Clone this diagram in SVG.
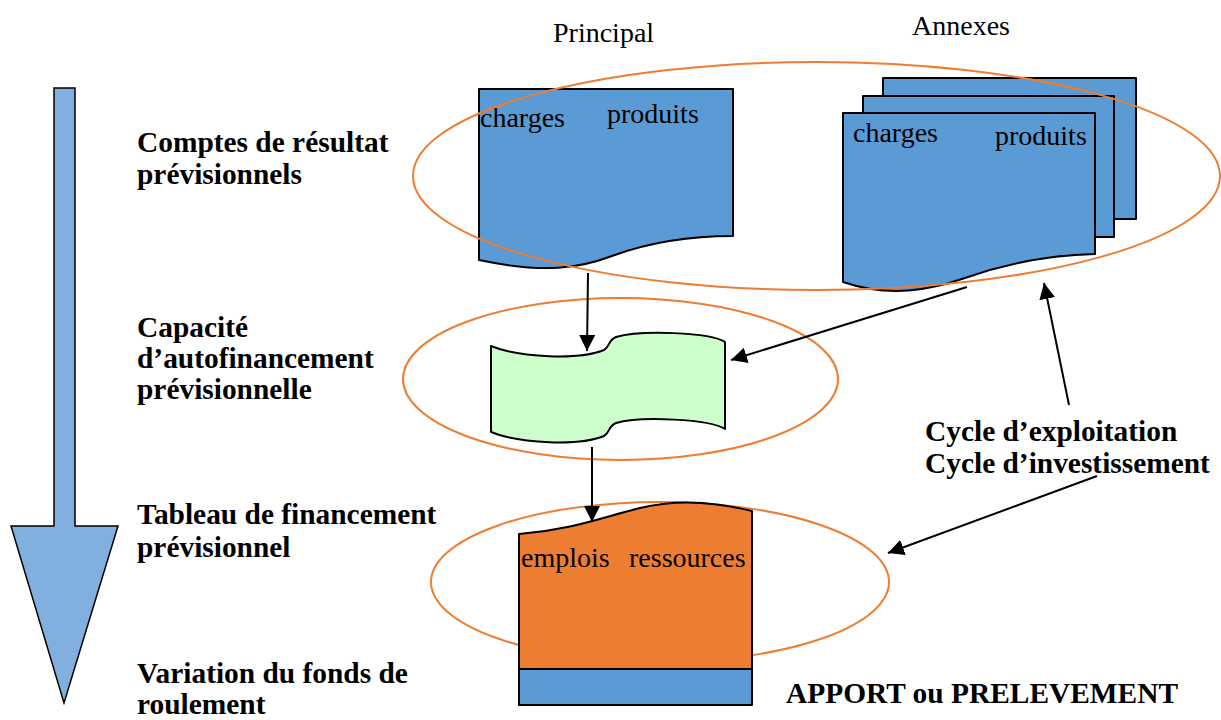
<svg xmlns="http://www.w3.org/2000/svg" width="1221" height="720" viewBox="0 0 1221 720">
  <style>
    .lbl { font-family: "Liberation Serif", "Times New Roman", serif; font-size: 29.4px; font-weight: bold; fill: #000; }
    .txt { font-family: "Liberation Serif", "Times New Roman", serif; font-size: 28px; fill: #000; }
    .doc { stroke: #000; stroke-width: 2; stroke-linejoin: round; }
    .blue { fill: #5B9BD5; }
    .ring { fill: none; stroke: #ED7D31; stroke-width: 2; }
    .conn { stroke: #000; stroke-width: 2; fill: none; }
  </style>
  <defs>
    <marker id="head" viewBox="0 0 16 16" refX="16" refY="8" markerWidth="16" markerHeight="16" markerUnits="userSpaceOnUse" orient="auto">
      <path d="M0,0 L16,8 L0,16 Z" fill="#000"/>
    </marker>
  </defs>
  <rect width="1221" height="720" fill="#fff"/>

  <!-- big downward flow arrow -->
  <g id="flow-arrow">
    <path d="M54,88 L75,88 L75,526 L118,526 L64,703 L11,526 L54,526 Z" fill="#80AFE0" stroke="#000" stroke-width="1.5" stroke-linejoin="miter"/>
  </g>

  <!-- step labels -->
  <g id="step-labels">
    <text class="lbl" x="137" y="152">Comptes de résultat</text>
    <text class="lbl" x="137" y="184">prévisionnels</text>
    <text class="lbl" x="137" y="337">Capacité</text>
    <text class="lbl" x="137" y="368">d’autofinancement</text>
    <text class="lbl" x="137" y="399">prévisionnelle</text>
    <text class="lbl" x="137" y="524">Tableau de financement</text>
    <text class="lbl" x="137" y="557">prévisionnel</text>
    <text class="lbl" x="137" y="683">Variation du fonds de</text>
    <text class="lbl" x="137" y="714">roulement</text>
  </g>

  <g id="column-titles">
    <text class="txt" x="553" y="42">Principal</text>
    <text class="txt" x="912" y="35">Annexes</text>
  </g>

  <!-- principal income statement -->
  <g id="principal">
    <path class="doc blue" d="M479,89 L733,89 L733,236 C690,236 650,242 612,256 C580,268 545,274 479,260 Z"/>
    <text class="txt" x="480" y="127">charges</text>
    <text class="txt" x="607" y="123">produits</text>
  </g>

  <!-- annex income statements (stack) -->
  <g id="annexes">
    <rect class="doc blue" x="883" y="78" width="253" height="141"/>
    <rect class="doc blue" x="863" y="96" width="251" height="141"/>
    <path class="doc blue" d="M843,113 L1095,113 L1095,254 C1045,255 1005,264 965,278 C930,290 890,298 843,282 Z"/>
    <text class="txt" x="853" y="142">charges</text>
    <text class="txt" x="995" y="145">produits</text>
  </g>

  <g id="ring-results">
    <ellipse class="ring" cx="816.5" cy="176" rx="403.5" ry="114"/>
  </g>

  <!-- self-financing capacity -->
  <g id="capacite">
    <ellipse class="ring" cx="620.5" cy="379" rx="217.5" ry="81"/>
    <path class="doc" fill="#CCFFCC" d="M491,346 C520,358 580,360 604,350 C610,347 608,340 616,337 C640,330 710,332 725,342 L725,429 C710,419 640,416 616,423 C608,426 610,433 604,436 C580,446 520,444 491,432 Z"/>
  </g>

  <!-- financing table -->
  <g id="tableau">
    <ellipse class="ring" cx="660" cy="582" rx="229" ry="80"/>
    <path class="doc" fill="#ED7D31" d="M519,534 C570,530 600,518 640,508 C680,498 720,503 752,511 L752,669 L519,669 Z"/>
    <text class="txt" x="521" y="567">emplois</text>
    <text class="txt" x="629" y="567">ressources</text>
  </g>

  <g id="fonds-roulement">
    <rect class="doc blue" x="519" y="669" width="233" height="36"/>
  </g>

  <g id="cycles">
    <text class="lbl" x="925" y="441">Cycle d’exploitation</text>
    <text class="lbl" x="925" y="473">Cycle d’investissement</text>
  </g>

  <g id="apport">
    <text class="lbl" x="786" y="703">APPORT ou PRELEVEMENT</text>
  </g>

  <!-- connectors -->
  <g id="connectors">
    <line class="conn" x1="588" y1="273" x2="587" y2="351" marker-end="url(#head)"/>
    <line class="conn" x1="967" y1="287" x2="731" y2="360" marker-end="url(#head)"/>
    <line class="conn" x1="592" y1="447" x2="592" y2="522" marker-end="url(#head)"/>
    <line class="conn" x1="1069" y1="405" x2="1044" y2="283" marker-end="url(#head)"/>
    <line class="conn" x1="1097" y1="476" x2="888" y2="553" marker-end="url(#head)"/>
  </g>
</svg>
